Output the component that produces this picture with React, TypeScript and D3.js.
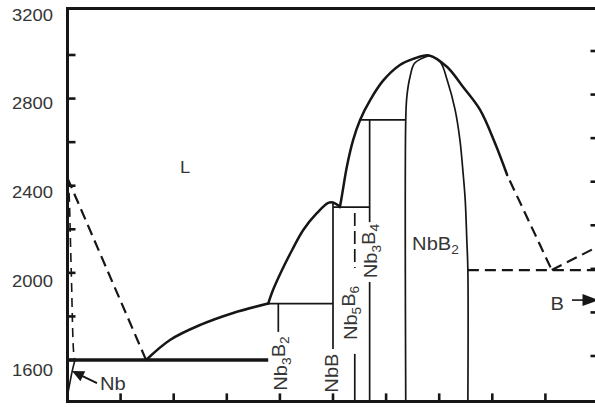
import React from 'react';
import * as d3 from 'd3';

type P = [number, number];

// ---- axes ----
const X_TICKS = [10, 20, 30, 40, 50, 60, 70, 80, 90];
const Y_TICKS = [1600, 1800, 2000, 2200, 2400, 2600, 2800, 3000];
const Y_LABELS = [1600, 2000, 2400, 2800, 3200];
const T_BOTTOM = 1410;
const T_TOP = 3213;

// ---- phase boundaries: [at.% B, T] ----
const nbLiquidusDashed: P[] = [[0, 2435], [14.8, 1600]];
const nbSolidus: P[] = [[0, 2435], [0.2, 2403], [0.7, 2013], [1.2, 1623], [1.4, 1600]];
const nbSolvus: P[] = [[1.4, 1600], [0.85, 1545], [0.1, 1449]];
const eutecticNb: P[] = [[0, 1600], [37.8, 1600]];
const liquidus1: P[] = [[14.8, 1600], [19.3, 1692], [25.0, 1761], [31.2, 1816], [37.8, 1859]];
const peritecticNb3B2: P[] = [[37.8, 1859], [50, 1859]];
const liquidus2: P[] = [[37.8, 1859], [38.7, 1921], [40.4, 2013], [42.3, 2105], [44.4, 2197], [47.0, 2275], [49.1, 2321], [50, 2323], [50.9, 2311], [51.3, 2302]];
const eutecticNbB: P[] = [[50, 2302], [56.9, 2302]];
const liquidus3: P[] = [[51.3, 2302], [51.7, 2357], [52.6, 2486], [53.8, 2610], [55.1, 2702], [57.0, 2793], [59.4, 2881], [62.6, 2954], [65.1, 2982], [68.1, 2998], [71.5, 2945], [74.5, 2853], [77.7, 2748], [80.5, 2596], [82.8, 2449]];
const liquidus3Dashed: P[] = [[82.8, 2449], [91.2, 2013]];
const liquidusB: P[] = [[91.2, 2013], [100, 2122]];
const eutecticB: P[] = [[75.4, 2013], [100, 2013]];
const peritecticNb3B4: P[] = [[55.1, 2702], [63.7, 2702]];
const nbB2Left: P[] = [[68.1, 2998], [65.4, 2963], [64.5, 2899], [63.9, 2807], [63.7, 2702], [63.7, T_BOTTOM]];
const nbB2Right: P[] = [[68.1, 2998], [70.2, 2968], [71.5, 2885], [73.0, 2748], [73.9, 2610], [74.5, 2458], [74.9, 2334], [75.2, 2151], [75.4, 2013], [75.4, T_BOTTOM]];

// compound lines
const nb3B2Line: P[] = [[39.7, 1859], [39.7, 1729]];
const nbBLine: P[] = [[50, 2323], [50, 1650]];
const nb5B6Dashed: P[] = [[54.1, 2275], [54.1, 2022]];
const nb5B6Line: P[] = [[54.1, 1628], [54.1, T_BOTTOM]];
const nb3B4Upper: P[] = [[56.9, 2702], [56.9, 2233]];
const nb3B4Lower: P[] = [[56.9, 1958], [56.9, T_BOTTOM]];

// annotations
const nbArrow: P[] = [[5.56, 1494], [0.85, 1549.5]];
const bArrow: P[] = [[95.0, 1875], [100, 1875]];

const INK = '#161616';
const TXT = '#353535';
const FONT = '"Liberation Sans", Arial, Helvetica, sans-serif';
const SX = 1.15;

export default function App() {
  const x = d3.scaleLinear().domain([0, 100]).range([67.5, 598.5]);
  const y = d3.scaleLinear().domain([1600, 3000]).range([360, 55]);
  const yLab = d3.scaleLinear().domain([1600, 3200]).range([370, 15]);

  const lin = d3.line<P>().x(d => x(d[0])).y(d => y(d[1]));
  const cr = d3.line<P>().x(d => x(d[0])).y(d => y(d[1])).curve(d3.curveCatmullRom.alpha(0.5));

  const x0 = x(0), x1 = x(100), yT = y(T_TOP), yB = y(T_BOTTOM);

  const arrowHead = (pts: P[], len: number, hw: number) => {
    const [a, b] = pts;
    const ax = x(a[0]), ay = y(a[1]), bx = x(b[0]), by = y(b[1]);
    const dx = bx - ax, dy = by - ay;
    const L = Math.hypot(dx, dy);
    const ux = dx / L, uy = dy / L;
    const px = -uy, py = ux;
    const cx = bx - ux * len, cy = by - uy * len;
    return `${bx},${by} ${cx + px * hw},${cy + py * hw} ${cx - px * hw},${cy - py * hw}`;
  };
  const arrowLine = (pts: P[], len: number): P[] => {
    const [a, b] = pts;
    const f = 1 - 0.9 * len / Math.hypot(x(b[0]) - x(a[0]), y(b[1]) - y(a[1]));
    return [a, [a[0] + (b[0] - a[0]) * f, a[1] + (b[1] - a[1]) * f]];
  };

  const sub = (s: string) => (
    <tspan fontSize="0.68em" dy="0.32em">{s}</tspan>
  );
  const up = (s: string) => <tspan dy="-0.32em">{s}</tspan>;

  const rotLabel = (cx: number, cy: number, content: React.ReactNode) => (
    <text
      transform={`translate(${x(cx)},${y(cy)}) rotate(-90) scale(${SX},1)`}
      textAnchor="middle"
      fontSize={17.5}
      fill={TXT}
    >
      {content}
    </text>
  );

  return (
    <svg
      width={595}
      height={407}
      style={{ position: 'absolute', left: 0, top: 0, background: '#fff' }}
      fontFamily={FONT}
    >
      <rect x={0} y={0} width={595} height={407} fill="#fff" />

      {/* frame */}
      <g stroke={INK} strokeWidth={3} fill="none" strokeLinecap="square">
        <line x1={x0} y1={yT} x2={x1} y2={yT} />
        <line x1={x0} y1={yT} x2={x0} y2={yB} />
        <line x1={x0} y1={yB} x2={x1} y2={yB} />
        <line x1={x1} y1={yT} x2={x1} y2={yB} />
      </g>
      {/* ticks */}
      <g stroke={INK} strokeWidth={2.6}>
        {Y_TICKS.map(t => (
          <line key={'l' + t} x1={x0} x2={x0 + 8} y1={y(t)} y2={y(t)} />
        ))}
        {Y_TICKS.map(t => (
          <line key={'r' + t} x1={x1 - 8} x2={x1} y1={y(t) - 4} y2={y(t) - 4} />
        ))}
        {X_TICKS.map(v => (
          <line key={'b' + v} x1={x(v)} x2={x(v)} y1={yB} y2={yB - 8} />
        ))}
      </g>
      {/* y labels */}
      {Y_LABELS.map(t => (
        <text
          key={'yl' + t}
          transform={`translate(53,${yLab(t)}) scale(${SX},1)`}
          textAnchor="end"
          dominantBaseline="central"
          fontSize={16}
          fill={TXT}
        >
          {t}
        </text>
      ))}

      {/* thick liquidus */}
      <g stroke={INK} fill="none" strokeWidth={2.5} strokeLinejoin="round" strokeLinecap="round">
        <path d={cr(liquidus1)!} />
        <path d={cr(liquidus2)!} />
        <path d={cr(liquidus3)!} />
      </g>
      {/* dashed liquidus */}
      <g stroke={INK} fill="none" strokeWidth={2.2} strokeDasharray="11 6">
        <path d={lin(nbLiquidusDashed)!} />
        <path d={lin(liquidus3Dashed)!} strokeDashoffset={-6} />
        <path d={lin(liquidusB)!} />
        <path d={lin(eutecticB)!} />
      </g>
      <path d={cr(nbSolidus)!} stroke={INK} fill="none" strokeWidth={1.6} strokeDasharray="9 6" />
      <path d={cr(nbSolvus)!} stroke={INK} fill="none" strokeWidth={1.6} />
      <path d={lin(eutecticNb)!} stroke={INK} fill="none" strokeWidth={3.5} />

      {/* thin boundaries */}
      <g stroke={INK} fill="none" strokeWidth={1.7}>
        <path d={lin(peritecticNb3B2)!} />
        <path d={lin(eutecticNbB)!} />
        <path d={lin(peritecticNb3B4)!} />
        <path d={cr(nbB2Left)!} />
        <path d={cr(nbB2Right)!} />
        <path d={lin(nb3B2Line)!} />
        <path d={lin(nbBLine)!} />
        <path d={lin(nb5B6Line)!} />
        <path d={lin(nb3B4Upper)!} />
        <path d={lin(nb3B4Lower)!} />
        <path d={lin(nb5B6Dashed)!} strokeDasharray="13 5" />
      </g>

      {/* arrows */}
      <path d={lin(arrowLine(nbArrow, 11))!} stroke={INK} strokeWidth={2} fill="none" />
      <polygon points={arrowHead(nbArrow, 12, 5.5)} fill={INK} />
      <path d={lin(arrowLine(bArrow, 16))!} stroke={INK} strokeWidth={1.6} fill="none" />
      <polygon points={arrowHead(bArrow, 16, 6)} fill={INK} />

      {/* labels */}
      <text transform={`translate(${x(21.2)},${y(2458)}) scale(${SX},1)`} fontSize={16} fill={TXT}>L</text>
      <text transform={`translate(${x(6.1)},${y(1462)}) scale(${SX},1)`} fontSize={17.5} fill={TXT}>Nb</text>
      <text transform={`translate(${x(92.2)},${y(1830)}) scale(${SX},1)`} fontSize={17.5} fill={TXT} textAnchor="middle">B</text>
      <text transform={`translate(${x(64.9)},${y(2105)}) scale(${SX},1)`} fontSize={17.5} fill={TXT}>
        NbB{sub('2')}
      </text>
      {rotLabel(41.3, 1584, <>Nb{sub('3')}{up('B')}{sub('2')}</>)}
      {rotLabel(50.9, 1540, <>NbB</>)}
      {rotLabel(54.5, 1816, <>Nb{sub('5')}{up('B')}{sub('6')}</>)}
      {rotLabel(58.3, 2100, <>Nb{sub('3')}{up('B')}{sub('4')}</>)}
    </svg>
  );
}
